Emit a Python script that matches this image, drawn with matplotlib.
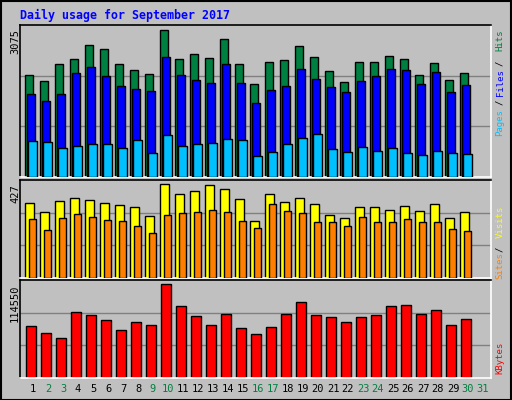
import matplotlib
matplotlib.use("Agg")
import matplotlib.pyplot as plt
from matplotlib.patches import Rectangle
import numpy as np

days = list(range(1, 32))
weekend = [2, 3, 9, 10, 16, 17, 23, 24, 30, 31]

hits = [2136, 2011, 2365, 2470, 2762, 2678, 2365, 2240, 2157, 3075, 2470, 2574, 2491, 2887, 2365,
        1948, 2407, 2449, 2741, 2511, 2219, 1990, 2407, 2407, 2532, 2470, 2136, 2386, 2031, 2178]
files = [1739, 1593, 1739, 2178, 2303, 2115, 1906, 1844, 1802, 2511, 2136, 2031, 1969, 2365, 1969,
         1551, 1823, 1906, 2261, 2052, 1885, 1781, 2011, 2115, 2261, 2240, 1948, 2198, 1781, 1927]
pages = [758, 737, 612, 654, 696, 696, 612, 779, 508, 884, 654, 696, 717, 800, 779,
         445, 529, 696, 821, 904, 591, 529, 633, 550, 612, 508, 466, 550, 508, 487]
visits = [343, 302, 353, 367, 357, 343, 334, 325, 283, 427, 385, 399, 422, 404, 362,
          260, 381, 348, 367, 339, 288, 274, 325, 325, 311, 330, 306, 339, 274, 302]
sites = [269, 218, 274, 292, 278, 265, 260, 237, 204, 288, 297, 302, 311, 302, 260,
         227, 339, 306, 297, 255, 255, 237, 278, 255, 255, 269, 255, 255, 223, 213]
kbytes = [64199, 55387, 49093, 80563, 76787, 70493, 59164, 67975, 65458, 114550, 88116, 75528,
          65458, 78046, 61681, 54128, 62940, 78046, 93151, 76787, 74269, 67975, 74269, 76787,
          88116, 89375, 78046, 83081, 65458, 71752]

W, H = 512, 400
BG = "#C0C0C0"
mono = "DejaVu Sans Mono"

fig = plt.figure(figsize=(W / 100, H / 100), dpi=100)
fig.patch.set_facecolor(BG)
fig.patches.append(Rectangle((0.5 / W, 0.5 / H), 1 - 1.5 / W, 1 - 1.5 / H, transform=fig.transFigure,
                             fill=False, edgecolor="black", lw=1.5))

def panel(top, bottom):
    ax = fig.add_axes([20 / W, 1 - bottom / H, 471 / W, (bottom - top) / H])
    ax.set_facecolor(BG)
    ax.set_xlim(0.133, 31.53)
    ax.set_xticks([])
    ax.set_yticks([])
    for f in (1 / 3, 2 / 3):
        ax.plot([0, 1], [f, f], transform=ax.transAxes, color="#808080", lw=1, zorder=0)
    ax.spines["top"].set_color("black")
    ax.spines["left"].set_color("black")
    ax.spines["bottom"].set_color("white")
    ax.spines["right"].set_color("white")
    for s in ax.spines.values():
        s.set_linewidth(1.2)
    return ax

d = np.arange(1, 31)

ax1 = panel(25, 177)
ax1.bar(d - 0.53, hits, width=0.53, align="edge", color="#008040", edgecolor="black", lw=1, zorder=2)
ax1.bar(d - 0.4, files, width=0.5, align="edge", color="#0000FF", edgecolor="black", lw=1, zorder=3)
ax1.bar(d - 0.31, pages, width=0.55, align="edge", color="#00C0FF", edgecolor="black", lw=1, zorder=4)
ax1.set_ylim(0, max(hits) * 152 / 147.4)

ax2 = panel(180, 278)
ax2.bar(d - 0.53, visits, width=0.6, align="edge", color="#FFFF00", edgecolor="black", lw=1, zorder=2)
ax2.bar(d - 0.27, sites, width=0.5, align="edge", color="#FF8000", edgecolor="black", lw=1, zorder=3)
ax2.set_ylim(0, max(visits) * 96.3 / 92)

ax3 = panel(280, 378)
ax3.bar(d - 0.47, kbytes, width=0.7, align="edge", color="#FF0000", edgecolor="black", lw=1, zorder=2)
ax3.set_ylim(0, max(kbytes) * 95.3 / 91)

def ftext(x, y, s, **kw):
    fig.text(x / W, 1 - y / H, s, family=mono, **kw)

ftext(20, 15, "Daily usage for September 2017", color="#0000FF", fontsize=8.4, weight="bold",
      ha="left", va="center")
ftext(15, 29, str(max(hits)), rotation=90, ha="center", va="top", fontsize=7.5)
ftext(15, 184, str(max(visits)), rotation=90, ha="center", va="top", fontsize=7.5)
ftext(15, 284, str(max(kbytes)), rotation=90, ha="center", va="top", fontsize=7.5)

for label, y, c in [("Pages", 123, "#00C0FF"), ("/", 102, "black"), ("Files", 83, "#0000FF"),
                    ("/", 63, "black"), ("Hits", 40, "#008040"),
                    ("Sites", 266, "#FF8000"), ("/", 249, "black"), ("Visits", 222, "#FFFF00"),
                    ("KBytes", 358, "#FF0000")]:
    ftext(500, y, label, rotation=90, ha="center", va="center", color=c, fontsize=6.5)

for day in days:
    x = 33 + (day - 1) * 15
    ftext(x, 389, str(day), ha="center", va="center", fontsize=7.5,
          color="#008040" if day in weekend else "black")

fig.savefig("out.png", dpi=100, facecolor=BG)
